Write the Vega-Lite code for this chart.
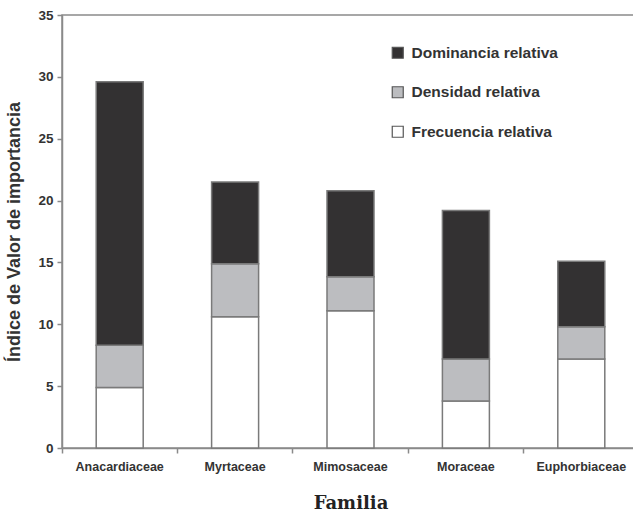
{
  "$schema": "https://vega.github.io/schema/vega-lite/v6.json",
  "width": 577,
  "height": 433,
  "autosize": {"type": "none"},
  "padding": {"left": 62, "top": 15, "right": 0, "bottom": 68},
  "background": "white",
  "config": {
    "view": {"stroke": "#8a8a8a", "strokeWidth": 1.5},
    "font": "Liberation Sans"
  },
  "data": {
    "values": [
      {"familia": "Anacardiaceae", "componente": "Frecuencia relativa", "orden": 1, "valor": 4.9},
      {"familia": "Anacardiaceae", "componente": "Densidad relativa", "orden": 2, "valor": 3.4},
      {"familia": "Anacardiaceae", "componente": "Dominancia relativa", "orden": 3, "valor": 21.3},
      {"familia": "Myrtaceae", "componente": "Frecuencia relativa", "orden": 1, "valor": 10.6},
      {"familia": "Myrtaceae", "componente": "Densidad relativa", "orden": 2, "valor": 4.3},
      {"familia": "Myrtaceae", "componente": "Dominancia relativa", "orden": 3, "valor": 6.6},
      {"familia": "Mimosaceae", "componente": "Frecuencia relativa", "orden": 1, "valor": 11.1},
      {"familia": "Mimosaceae", "componente": "Densidad relativa", "orden": 2, "valor": 2.75},
      {"familia": "Mimosaceae", "componente": "Dominancia relativa", "orden": 3, "valor": 6.95},
      {"familia": "Moraceae", "componente": "Frecuencia relativa", "orden": 1, "valor": 3.8},
      {"familia": "Moraceae", "componente": "Densidad relativa", "orden": 2, "valor": 3.4},
      {"familia": "Moraceae", "componente": "Dominancia relativa", "orden": 3, "valor": 12.0},
      {"familia": "Euphorbiaceae", "componente": "Frecuencia relativa", "orden": 1, "valor": 7.2},
      {"familia": "Euphorbiaceae", "componente": "Densidad relativa", "orden": 2, "valor": 2.6},
      {"familia": "Euphorbiaceae", "componente": "Dominancia relativa", "orden": 3, "valor": 5.3}
    ]
  },
  "mark": {"type": "bar", "size": 47, "stroke": "#7a7a7a", "strokeWidth": 1.5},
  "encoding": {
    "x": {
      "field": "familia",
      "type": "nominal",
      "sort": ["Anacardiaceae", "Myrtaceae", "Mimosaceae", "Moraceae", "Euphorbiaceae"],
      "scale": {"paddingInner": 0, "paddingOuter": 0},
      "axis": {
        "title": "Familia",
        "titleFont": "DejaVu Serif",
        "titleFontSize": 18,
        "titleFontWeight": "bold",
        "titleColor": "#222222",
        "titlePadding": 22,
        "labelAngle": 0,
        "labelFontSize": 12.5,
        "labelFontWeight": "bold",
        "labelColor": "#333333",
        "labelPadding": 7,
        "bandPosition": 0,
        "tickSize": 5,
        "tickColor": "#8a8a8a",
        "tickWidth": 1.5,
        "domainColor": "#8a8a8a",
        "domainWidth": 1.5
      }
    },
    "y": {
      "field": "valor",
      "type": "quantitative",
      "stack": "zero",
      "scale": {"domain": [0, 35], "nice": false},
      "axis": {
        "title": "Índice de Valor de importancia",
        "titleFontSize": 18,
        "titleFontWeight": "bold",
        "titleColor": "#333333",
        "titlePadding": 14,
        "values": [0, 5, 10, 15, 20, 25, 30, 35],
        "grid": false,
        "labelFontSize": 13.5,
        "labelFontWeight": "bold",
        "labelColor": "#333333",
        "labelPadding": 4,
        "tickSize": 5,
        "tickColor": "#8a8a8a",
        "tickWidth": 1.5,
        "domainColor": "#8a8a8a",
        "domainWidth": 1.5
      }
    },
    "color": {
      "field": "componente",
      "type": "nominal",
      "scale": {
        "domain": ["Dominancia relativa", "Densidad relativa", "Frecuencia relativa"],
        "range": ["#333132", "#bcbdc0", "#ffffff"]
      },
      "legend": {
        "title": null,
        "orient": "none",
        "legendX": 328,
        "legendY": 30,
        "symbolType": "square",
        "symbolSize": 121,
        "symbolStrokeColor": "#555555",
        "symbolStrokeWidth": 1.2,
        "symbolOpacity": 1,
        "labelFontSize": 15.5,
        "labelFontWeight": "bold",
        "labelColor": "#333333",
        "labelOffset": 6,
        "rowPadding": 21.5
      }
    },
    "order": {"field": "orden", "type": "quantitative", "sort": "ascending"}
  }
}
